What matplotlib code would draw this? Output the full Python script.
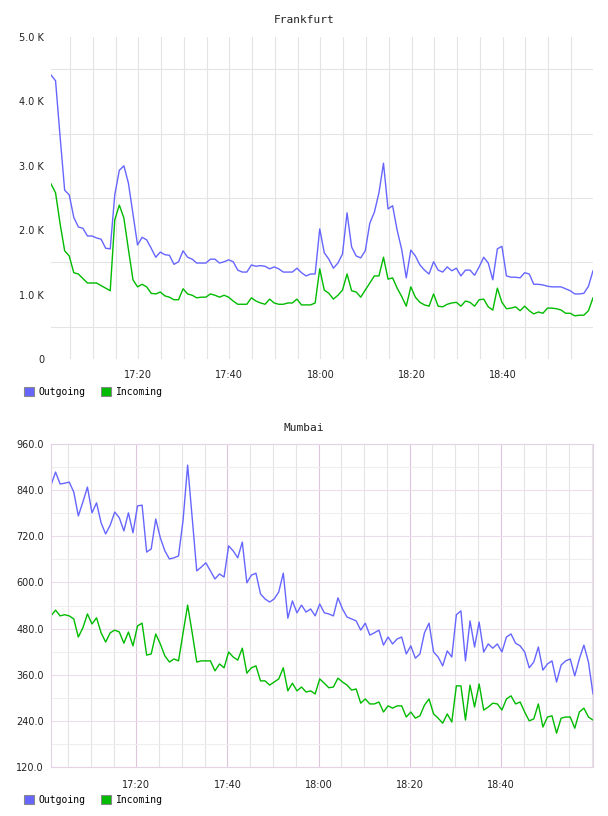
"""
Outgoing / incoming traffic for two sites, one sample per minute
"""

import numpy as np
import matplotlib

matplotlib.use("Agg")
import matplotlib.pyplot as plt
import matplotlib.dates as mdates
from matplotlib.patches import Patch

DAY = "2024-01-01"
xtick_labels = ["17:20", "17:40", "18:00", "18:20", "18:40"]

# Frankfurt, values in K
FRA_START = "17:00:50"
fra_out = [
    4.41, 4.32, 3.45, 2.62, 2.55, 2.2, 2.05, 2.03, 1.91, 1.91, 1.88, 1.86, 1.72,
    1.71, 2.55, 2.93, 3.0, 2.73, 2.25, 1.77, 1.89, 1.85, 1.72, 1.58, 1.66, 1.62,
    1.61, 1.47, 1.51, 1.68, 1.58, 1.55, 1.49,
    1.49, 1.49, 1.55, 1.55, 1.49, 1.51, 1.54, 1.51, 1.38, 1.35, 1.35, 1.46, 1.44,
    1.45, 1.44, 1.4, 1.43, 1.4, 1.35, 1.35, 1.35, 1.41, 1.34, 1.29, 1.32, 1.32,
    2.02, 1.65, 1.55, 1.41, 1.49, 1.63, 2.27, 1.74, 1.6, 1.57, 1.68, 2.11, 2.28,
    2.58, 3.04, 2.33, 2.38, 2.0,
    1.7, 1.26, 1.69, 1.6, 1.46, 1.38, 1.32, 1.51, 1.38, 1.35, 1.43, 1.37, 1.41,
    1.29, 1.38, 1.38, 1.3, 1.43, 1.58, 1.49, 1.23, 1.71, 1.75, 1.29, 1.27, 1.27,
    1.26, 1.34, 1.32, 1.16, 1.16, 1.15, 1.13, 1.12, 1.12, 1.12, 1.09, 1.06, 1.01,
    1.01, 1.02, 1.13, 1.37,
]
fra_in = [
    2.72, 2.58, 2.1, 1.68, 1.6, 1.34, 1.32, 1.25, 1.18, 1.18, 1.18, 1.14, 1.1,
    1.06, 2.16, 2.39, 2.19, 1.7, 1.23, 1.12, 1.16, 1.12, 1.02, 1.01, 1.04, 0.98,
    0.96, 0.92, 0.92, 1.09, 1.01, 0.99, 0.95,
    0.96, 0.96, 1.01, 0.99, 0.96, 0.99, 0.96, 0.9, 0.85, 0.85, 0.85, 0.95, 0.9,
    0.87, 0.85, 0.93, 0.87, 0.85, 0.85, 0.87, 0.87, 0.93, 0.84, 0.84, 0.84, 0.87,
    1.4, 1.07, 1.02, 0.93, 0.99, 1.07, 1.32, 1.06, 1.04, 0.96, 1.07, 1.18, 1.29,
    1.29, 1.58, 1.24, 1.26, 1.1,
    0.97, 0.82, 1.12, 0.96, 0.88, 0.84, 0.82, 1.01, 0.82, 0.81, 0.85, 0.87, 0.88,
    0.82, 0.9, 0.88, 0.82, 0.92, 0.93, 0.81, 0.76, 1.1, 0.88, 0.78, 0.79, 0.81,
    0.75, 0.82, 0.75, 0.7, 0.73, 0.71, 0.79, 0.79, 0.78, 0.76, 0.71, 0.71, 0.67,
    0.68, 0.68, 0.75, 0.95,
]
fra_yticks = [0, 1, 2, 3, 4, 5]
fra_ylabels = ["0", "1.0 K", "2.0 K", "3.0 K", "4.0 K", "5.0 K"]
fra_yminor = [0.5, 1.5, 2.5, 3.5, 4.5]

# Mumbai
BOM_START = "17:01:15"
bom_out = [
    853, 887, 856, 858, 861, 835, 773, 809, 848, 781, 807, 755, 726, 749, 783,
    768, 734, 781, 729, 799, 801, 679, 687, 765, 716, 682, 661, 664, 669, 762,
    905, 768, 630,
    640, 651, 630, 609, 622, 614, 695, 682, 664, 705, 599, 619, 624, 570, 557,
    549, 557, 575, 624, 507, 552, 521, 541, 523, 531, 513, 544, 521, 518, 513,
    560, 531, 510, 505, 500, 476, 494, 463, 469, 476, 437, 458, 440, 453,
    458, 414, 435, 403, 414, 469, 494, 419, 406, 383, 422, 406, 516, 526, 396,
    500, 432, 497, 419, 440, 429, 440, 419, 458, 466, 442, 435, 419, 378, 393,
    432, 372, 388, 396, 341, 385, 396, 401, 357, 401, 437, 393, 310,
]
bom_in = [
    513, 528, 513, 516, 513, 505, 458, 482, 518, 492, 508, 469, 445, 469, 476,
    471, 442, 471, 435, 487, 494, 411, 414, 466, 440, 409, 393, 401, 396, 469,
    541, 469, 393,
    396, 396, 396, 370, 388, 378, 419, 406, 398, 429, 364, 378, 383, 344, 344,
    333, 341, 349, 378, 318, 338, 318, 328, 315, 318, 310, 349, 338, 326, 328,
    351, 341, 333, 320, 323, 286, 297, 284, 284, 289, 263, 279, 273, 279,
    279, 250, 263, 247, 253, 281, 297, 258, 247, 234, 258, 237, 331, 331, 242,
    333, 276, 336, 268, 276, 286, 284, 268, 297, 305, 284, 289, 263, 240, 245,
    284, 224, 250, 253, 208, 247, 250, 250, 221, 263, 273, 250, 242,
]
bom_yticks = [120, 240, 360, 480, 600, 720, 840, 960]
bom_ylabels = ["120.0", "240.0", "360.0", "480.0", "600.0", "720.0", "840.0", "960.0"]
bom_yminor = [180, 300, 420, 540, 660, 780, 900]

BLUE = "#6666ff"
GREEN = "#00bb00"
W, H = 608, 816

fig = plt.figure(figsize=(W / 100, H / 100), dpi=100)


def px_axes(left, top, right, bottom):
    return fig.add_axes([left / W, 1 - bottom / H, (right - left) / W, (bottom - top) / H])


def draw(ax, start, out, inc, yticks, ylabels, yminor, pad_x):
    times = np.datetime64(DAY + "T" + start) + np.arange(len(out)) * np.timedelta64(60, "s")
    ax.plot(times, out, color=BLUE, lw=1.0)
    ax.plot(times, inc, color=GREEN, lw=1.0)
    ax.set_xlim(times[0], times[-1])
    ax.set_ylim(yticks[0], yticks[-1])
    ax.set_yticks(yticks)
    ax.set_yticklabels(ylabels)
    ax.set_yticks(yminor, minor=True)
    xt = [np.datetime64(DAY + "T" + t) for t in xtick_labels]
    ax.set_xticks(xt)
    ax.set_xticklabels(xtick_labels)
    ax.xaxis.set_minor_locator(mdates.MinuteLocator(byminute=range(0, 60, 5)))
    ax.tick_params(which="both", length=0, labelsize=7, colors="#222222")
    ax.tick_params(axis="y", pad=5)
    ax.tick_params(axis="x", pad=pad_x)
    ax.set_axisbelow(True)


def legend(y):
    handles = [
        Patch(facecolor=BLUE, edgecolor="#888888", lw=0.8, label="Outgoing"),
        Patch(facecolor=GREEN, edgecolor="#888888", lw=0.8, label="Incoming"),
    ]
    fig.legend(
        handles=handles, loc="center left", bbox_to_anchor=(24 / W, 1 - y / H),
        ncol=2, frameon=False, prop={"family": "DejaVu Sans Mono", "size": 7},
        handlelength=1.0, handleheight=1.0, handletextpad=0.5,
        columnspacing=1.6, borderpad=0, borderaxespad=0,
    )


# Frankfurt
ax1 = px_axes(51, 37, 593, 359)
draw(ax1, FRA_START, fra_out, fra_in, fra_yticks, fra_ylabels, fra_yminor, 8)
ax1.grid(which="both", axis="x", color="#e4e4e4", lw=0.8)
ax1.yaxis.grid(False, which="major")
ax1.grid(which="minor", axis="y", color="#e4e4e4", lw=0.8)
for s in ax1.spines.values():
    s.set_visible(False)
fig.text(0.5, 1 - 20 / H, "Frankfurt", ha="center", va="center",
         family="DejaVu Sans Mono", size=8, color="#222222")
legend(392)

# Mumbai
ax2 = px_axes(51, 444, 593, 767)
draw(ax2, BOM_START, bom_out, bom_in, bom_yticks, bom_ylabels, bom_yminor, 9)
ax2.grid(which="minor", axis="x", color="#e4e4e4", lw=0.8)
ax2.grid(which="major", axis="x", color="#dcc6dc", lw=0.8)
ax2.grid(which="minor", axis="y", color="#eeeeee", lw=0.8)
ax2.grid(which="major", axis="y", color="#ecdcec", lw=0.8)
for s in ax2.spines.values():
    s.set_color("#e6d2e6")
    s.set_linewidth(0.8)
fig.text(0.5, 1 - 428 / H, "Mumbai", ha="center", va="center",
         family="DejaVu Sans Mono", size=8, color="#222222")
legend(800)

fig.savefig("out.png", dpi=100)
